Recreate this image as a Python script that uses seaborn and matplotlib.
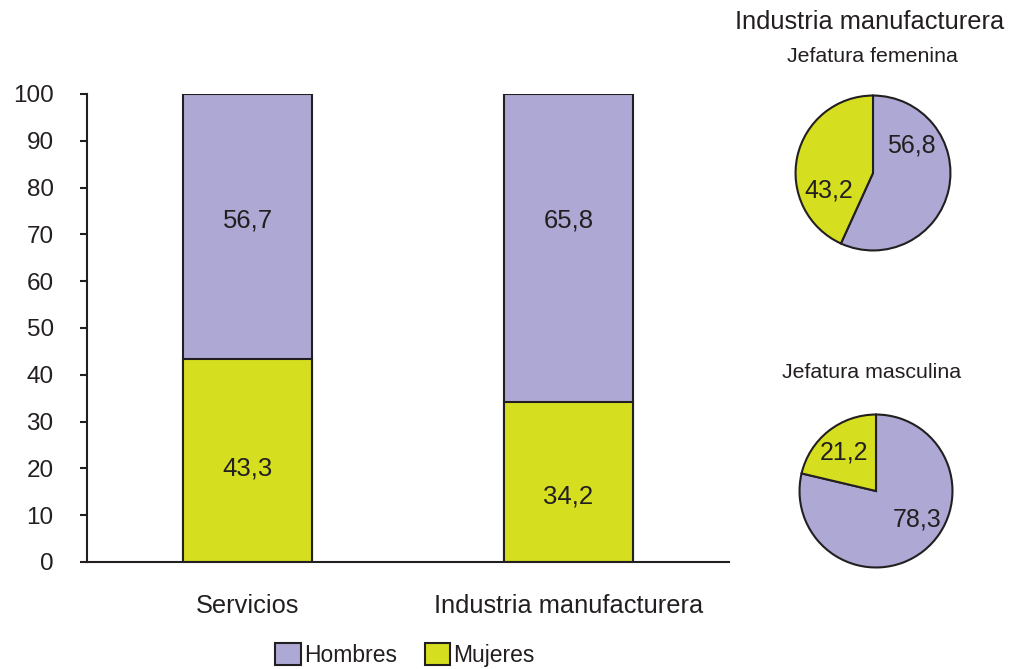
import matplotlib
matplotlib.use("Agg")
import matplotlib.pyplot as plt
import seaborn as sns
import pandas as pd
from matplotlib.patches import Patch

sns.set_style("white")
plt.rcParams['font.family'] = ['Liberation Sans', 'DejaVu Sans']

categories = ["Servicios", "Industria manufacturera"]
hombres = [56.7, 65.8]
mujeres = [43.3, 34.2]
yticks = [0, 10, 20, 30, 40, 50, 60, 70, 80, 90, 100]

pie_title = "Industria manufacturera"
pie_names = ["Jefatura femenina", "Jefatura masculina"]
pie_hombres = [56.8, 78.3]
pie_mujeres = [43.2, 21.2]

series_names = ["Hombres", "Mujeres"]
c_h = "#ADA9D4"
c_m = "#D6DF1F"
edge = "#231F20"

fig = plt.figure(figsize=(10.13, 6.69), dpi=100)
ax = fig.add_axes([87/1013, 1-562/669, (729-87)/1013, (562-94)/669])

df = pd.DataFrame({"cat": categories, "h": hombres, "m": mujeres})
df["total"] = df["h"] + df["m"]
sns.barplot(data=df, x="cat", y="total", color=c_h, width=0.4, edgecolor=edge,
            linewidth=1.5, saturation=1, ax=ax)
sns.barplot(data=df, x="cat", y="m", color=c_m, width=0.4, edgecolor=edge,
            linewidth=1.5, saturation=1, ax=ax)

label_top_y = [73, 73]
label_bot_y = [20, 14]
for i in range(len(categories)):
    ax.text(i, label_top_y[i], f"{hombres[i]:.1f}".replace(".", ","), ha="center", va="center",
            fontsize=18.5, color=edge)
    ax.text(i, label_bot_y[i], f"{mujeres[i]:.1f}".replace(".", ","), ha="center", va="center",
            fontsize=18.5, color=edge)

ax.set_xlim(-0.5, 1.5)
ax.set_ylim(0, 100)
ax.set_yticks(yticks)
ax.set_yticklabels([str(v) for v in yticks], fontsize=17.5, color=edge)
ax.set_xticks(range(len(categories)))
ax.set_xticklabels(categories, fontsize=18.3, color=edge)
ax.set_xticks([-0.5, 0.5, 1.5], minor=True)
ax.tick_params(axis="x", which="major", length=0, pad=23)
ax.tick_params(axis="x", which="minor", length=6, width=1.5, color=edge, direction="out")
ax.tick_params(axis="y", length=5, width=1.5, color=edge, direction="out", pad=19, left=True)
ax.set_xlabel("")
ax.set_ylabel("")
for s in ["top", "right"]:
    ax.spines[s].set_visible(False)
for s in ["left", "bottom"]:
    ax.spines[s].set_color(edge)
    ax.spines[s].set_linewidth(1.5)

# pies
pie_boxes = [
    [794/1013, 1-252/669, 158/1013, 158/669],
    [798/1013, 1-569/669, 156/1013, 156/669],
]
label_pos = [
    [(0.49, 0.36), (-0.57, -0.22)],
    [(0.54, -0.37), (-0.42, 0.50)],
]
title_y = [57, 372]
for k in range(2):
    pax = fig.add_axes(pie_boxes[k])
    pax.pie([pie_hombres[k], pie_mujeres[k]], colors=[c_h, c_m], startangle=90,
            counterclock=False, wedgeprops=dict(edgecolor=edge, linewidth=1.5))
    pax.set_xlim(-1.02, 1.02)
    pax.set_ylim(-1.02, 1.02)
    pax.set_aspect("equal")
    vals = [pie_hombres[k], pie_mujeres[k]]
    for j in range(2):
        pax.text(label_pos[k][j][0], label_pos[k][j][1], f"{vals[j]:.1f}".replace(".", ","),
                 ha="center", va="center", fontsize=18, color=edge)
    fig.text(872/1013, 1-title_y[k]/669, pie_names[k], ha="center", va="center",
             fontsize=15.4, color=edge)

fig.text(870/1013, 1-22/669, pie_title, ha="center", va="center", fontsize=18.3, color=edge)

handles = [Patch(facecolor=c_h, edgecolor=edge, linewidth=1.5),
           Patch(facecolor=c_m, edgecolor=edge, linewidth=1.5)]
fig.legend(handles, series_names, loc="center", bbox_to_anchor=(405/1013, 1-655/669),
           ncol=2, frameon=False, fontsize=16.5, handlelength=1.1, handleheight=1.1,
           handletextpad=0.15, columnspacing=1.2, labelcolor=edge)

fig.savefig("out.png", dpi=100)
